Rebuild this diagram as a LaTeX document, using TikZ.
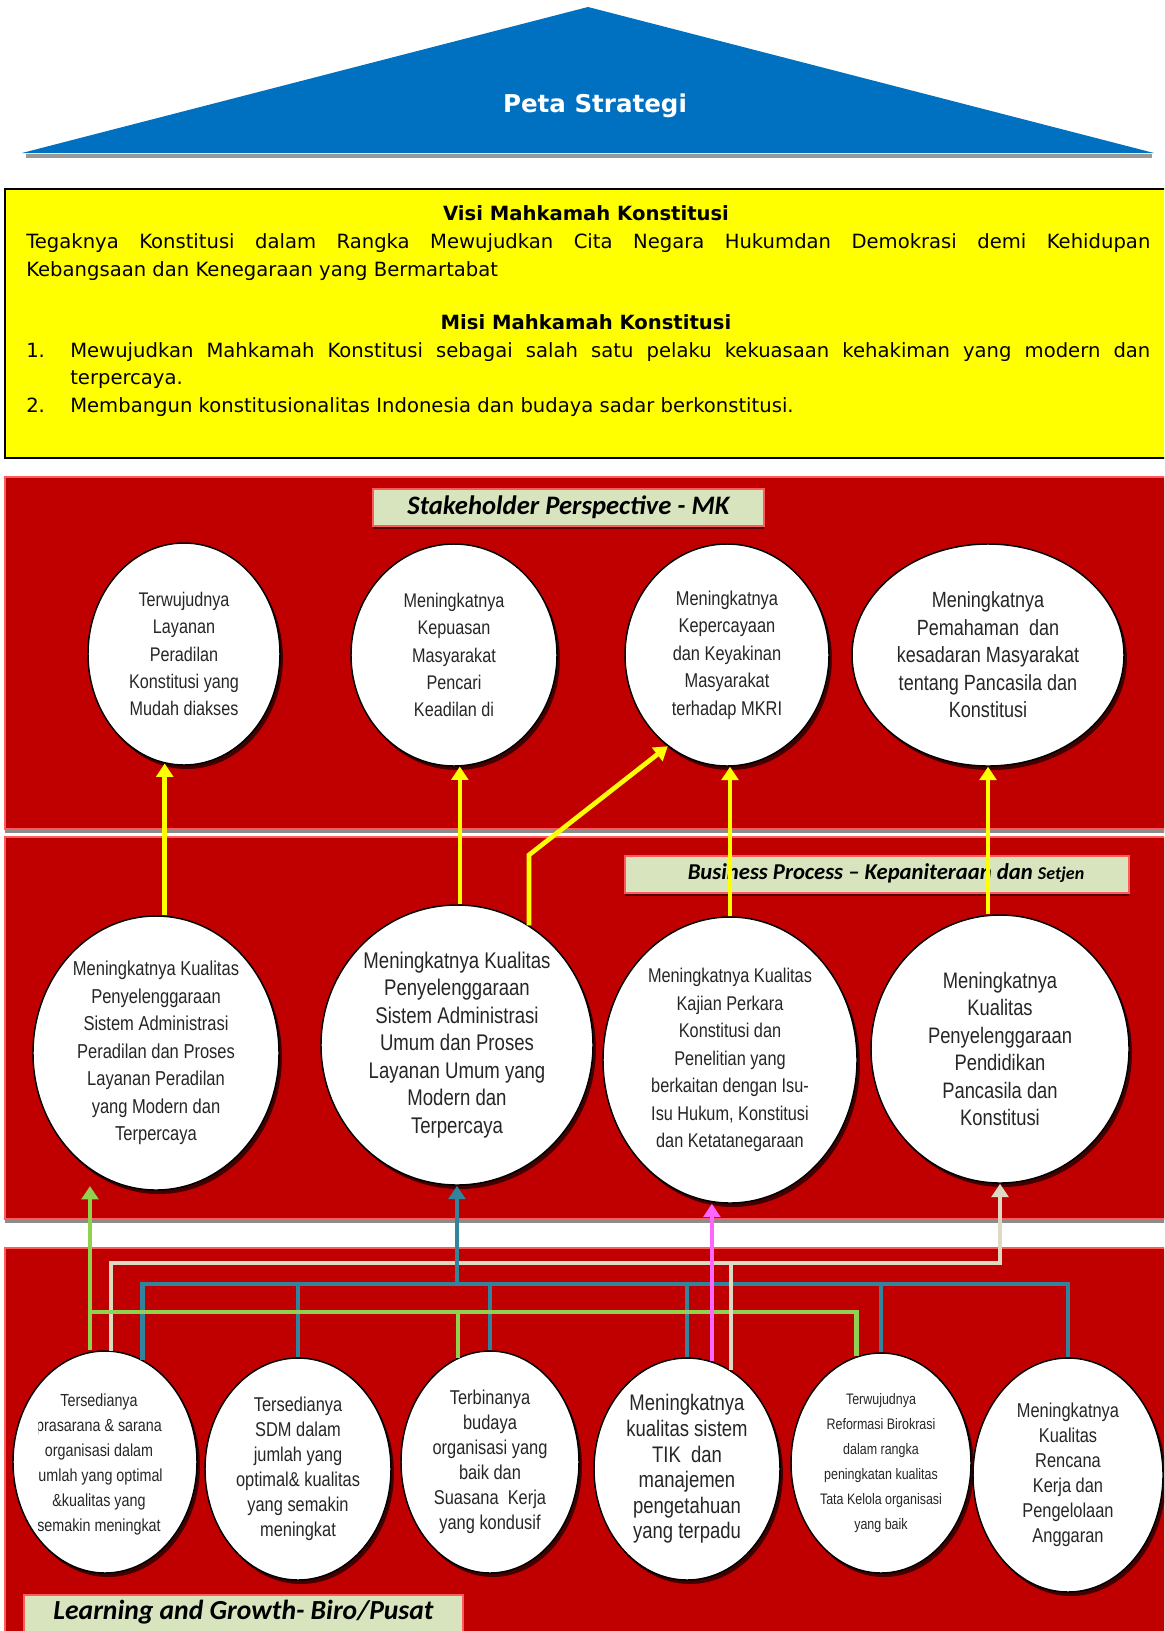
\documentclass[tikz,border=0pt]{standalone}
\usepackage{fontspec}
\setmainfont{Liberation Sans}
\newfontfamily\narrowfont[FakeStretch=0.82]{Liberation Sans}
\newfontfamily\vmfont{DejaVu Sans}
\newfontfamily\tagfont{Carlito}
\usepackage{xcolor}
\usepackage{tikz}
\usetikzlibrary{arrows.meta,shapes.geometric,shadows}
\definecolor{mkred}{HTML}{C00000}
\definecolor{mkedge}{HTML}{FF5B5B}
\definecolor{mkblue}{HTML}{0070C0}
\definecolor{mkyellow}{HTML}{FFFF00}
\definecolor{tagfill}{HTML}{D7E4BD}
\definecolor{lgreen}{HTML}{92D050}
\definecolor{lteal}{HTML}{31849B}
\definecolor{lbeige}{HTML}{DDD9C3}
\definecolor{lpink}{HTML}{FF66FF}
\newcommand{\ovalfont}[2]{\narrowfont\fontsize{#1}{#2}\selectfont}
\newcommand{\tagsize}[1]{\tagfont\bfseries\itshape\fontsize{#1}{24}\selectfont}

\begin{document}
\begin{tikzpicture}[x=0.75pt,y=-0.75pt,
 panel/.style={draw=mkedge,line width=1.2pt,fill=mkred,anchor=north west,inner sep=0pt,minimum width=900pt,
   drop shadow={shadow xshift=0pt,shadow yshift=-3.5pt,fill=black!45,opacity=1}},
 tag/.style={draw=mkedge,line width=1.5pt,fill=tagfill,anchor=base,inner sep=0pt,
   drop shadow={shadow xshift=0pt,shadow yshift=-2.2pt,fill=black,opacity=.55}},
 oval/.style={ellipse,draw=black,line width=1.1pt,fill=white,inner sep=0pt,align=center,text=black!85,
   drop shadow={shadow xshift=2.2pt,shadow yshift=-3pt,fill=black,opacity=.65}},
 vmtext/.style={anchor=base west,inner sep=0pt,font=\vmfont\fontsize{14.7}{20}\selectfont},
 vmtitle/.style={anchor=base,inner sep=0pt,font=\vmfont\bfseries\fontsize{14.7}{20}\selectfont},
 link/.style={line width=3.5pt},
 arr/.style={link,-{Triangle[length=10pt,width=12.5pt]}}]
\useasboundingbox (0,0) rectangle (1164,1631);
\clip (0,0) rectangle (1164,1631);

\fill[black!40] (26,154) rectangle (1152,158);
\fill[mkblue] (22,153) -- (588,7) -- (1154,153) -- cycle;
\node[vmtitle,text=white,font=\vmfont\bfseries\fontsize{18.4}{22}\selectfont] (title) at (595,112) {Peta Strategi};

\node[draw=black,line width=1.8pt,fill=mkyellow,anchor=north west,inner sep=0pt,minimum width=900pt,minimum height=201.75pt] (vmbox) at (4,188) {};
\node[vmtitle] (visi) at (586,220) {Visi Mahkamah Konstitusi};
\node[vmtext] (visi1) at (26,248) {\makebox[843pt][s]{Tegaknya Konstitusi dalam Rangka Mewujudkan Cita Negara Hukumdan Demokrasi demi Kehidupan}};
\node[vmtext] (visi2) at (26,276) {Kebangsaan dan Kenegaraan yang Bermartabat};
\node[vmtitle] (misi) at (586,329) {Misi Mahkamah Konstitusi};
\node[vmtext] (no1) at (26,357) {1.};
\node[vmtext] (misi1) at (70,357) {\makebox[810pt][s]{Mewujudkan Mahkamah Konstitusi sebagai salah satu pelaku kekuasaan kehakiman yang modern dan}};
\node[vmtext] (misi1b) at (70,384) {terpercaya.};
\node[vmtext] (no2) at (26,412) {2.};
\node[vmtext] (misi2) at (70,412) {Membangun konstitusionalitas Indonesia dan budaya sadar berkonstitusi.};

\node[panel,minimum height=264pt] (stakepanel) at (4,476) {};
\node[panel,minimum height=286.5pt] (bppanel) at (4,836) {};
\node[panel,minimum height=294.75pt] (lgpanel) at (4,1247) {};

\node[tag,minimum width=293.25pt,text height=18.75pt,text depth=9pt,font=\tagsize{20}] (stake) at (568.5,514) {Stakeholder Perspective - MK};
\node[tag,minimum width=378pt,text height=17.25pt,text depth=10.5pt,font=\tagsize{17}] (bp) at (877,879) {\hspace*{13.5pt}Business Process – Kepaniteraan dan {\fontsize{13.5}{16}\selectfont Setjen}};
\node[tag,minimum width=329.25pt,text height=18pt,text depth=15.75pt,font=\tagsize{20.7}] (lg) at (243.5,1619) {Learning and Growth- Biro/Pusat};

\node[oval,minimum width=144pt,minimum height=166.5pt,font=\ovalfont{14.8}{20.6}] (S1) at (184,654) {Terwujudnya\\Layanan\\Peradilan\\Konstitusi yang\\Mudah diakses};
\node[oval,minimum width=154.5pt,minimum height=166.5pt,font=\ovalfont{14.8}{20.6}] (S2) at (454,655) {Meningkatnya\\Kepuasan\\Masyarakat\\Pencari\\Keadilan di};
\node[oval,minimum width=153pt,minimum height=166.5pt,font=\ovalfont{15}{20.6}] (S3) at (727,655) {Meningkatnya\\Kepercayaan\\dan Keyakinan\\Masyarakat\\terhadap MKRI};
\node[oval,minimum width=204pt,minimum height=166.5pt,font=\ovalfont{16.5}{20.6}] (S4) at (988,655) {Meningkatnya\\Pemahaman\ \ dan\\kesadaran Masyarakat\\tentang Pancasila dan\\Konstitusi};

\node[oval,minimum width=184.5pt,minimum height=205.5pt,font=\ovalfont{15.1}{20.6}] (B1) at (156,1053) {Meningkatnya Kualitas\\Penyelenggaraan\\Sistem Administrasi\\Peradilan dan Proses\\Layanan Peradilan\\yang Modern dan\\Terpercaya};
\node[oval,minimum width=204pt,minimum height=210pt,font=\ovalfont{17}{20.6}] (B2) at (457,1045) {Meningkatnya Kualitas\\Penyelenggaraan\\Sistem Administrasi\\Umum dan Proses\\Layanan Umum yang\\Modern dan\\Terpercaya};
\node[oval,minimum width=190.5pt,minimum height=214.5pt,font=\ovalfont{14.9}{20.6}] (B3) at (730,1060) {Meningkatnya Kualitas\\Kajian Perkara\\Konstitusi dan\\Penelitian yang\\berkaitan dengan Isu-\\Isu Hukum, Konstitusi\\dan Ketatanegaraan};
\node[oval,minimum width=193.5pt,minimum height=201pt,font=\ovalfont{16.8}{20.6}] (B4) at (1000,1049) {Meningkatnya\\Kualitas\\Penyelenggaraan\\Pendidikan\\Pancasila dan\\Konstitusi};

\node[oval,minimum width=138pt,minimum height=166.5pt] (L1) at (105,1462) {};
\begin{scope}
\clip (38,1380) rectangle (210,1550);
\node[align=center,inner sep=0pt,text=black!85,font=\ovalfont{13.1}{18.75}] (L1text) at (99,1464) {Tersedianya\\prasarana \& sarana\\organisasi dalam\\jumlah yang optimal\\\&kualitas yang\\semakin meningkat};
\end{scope}
\node[oval,minimum width=139.5pt,minimum height=166.5pt,font=\ovalfont{15}{18.75}] (L2) at (298,1469) {Tersedianya\\SDM dalam\\jumlah yang\\optimal\& kualitas\\yang semakin\\meningkat};
\node[oval,minimum width=133.5pt,minimum height=166.5pt,font=\ovalfont{15}{18.75}] (L3) at (490,1462) {Terbinanya\\budaya\\organisasi yang\\baik dan\\Suasana\ \ Kerja\\yang kondusif};
\node[oval,minimum width=139.5pt,minimum height=166.5pt,font=\ovalfont{16.9}{19.2}] (L4) at (687,1469) {Meningkatnya\\kualitas sistem\\TIK\ \ dan\\manajemen\\pengetahuan\\yang terpadu};
\node[oval,minimum width=135pt,minimum height=165pt,font=\ovalfont{11.4}{18.75}] (L5) at (881,1463) {Terwujudnya\\Reformasi Birokrasi\\dalam rangka\\peningkatan kualitas\\Tata Kelola organisasi\\yang baik};
\node[oval,minimum width=142.5pt,minimum height=175.5pt,font=\ovalfont{15}{18.75}] (L6) at (1068,1475) {Meningkatnya\\Kualitas\\Rencana\\Kerja dan\\Pengelolaan\\Anggaran};

\coordinate (cbus) at (0,1263);
\coordinate (bbus) at (0,1284);
\coordinate (gbus) at (0,1312);
\coordinate (gtip) at (90,1186);
\coordinate (kink) at (529,855);

\draw[arr,lbeige] (L1.87) |- (cbus -| B4.south) -- (B4.south);
\draw[arr,lteal] (B2.south |- bbus) -- (B2.south);
\draw[link,lteal] (L1.70) |- (bbus -| L6.north) -- (L6.north);
\draw[link,lteal] (L2.north) -- (L2.north |- bbus);
\draw[link,lteal] (L3.north) -- (L3.north |- bbus);
\draw[link,lteal] (L4.north) -- (L4.north |- bbus);
\draw[link,lteal] (L5.north) -- (L5.north |- bbus);
\draw[arr,lgreen] (L1.north -| gtip) -- (gtip);
\draw[link,lgreen] (gtip |- gbus) -| (L5.103);
\draw[link,lgreen] (L3.107) -- (L3.107 |- gbus);
\draw[link,lbeige] (L4.66) -- (L4.66 |- cbus);
\draw[arr,lpink] (L4.77) -- (L4.77 |- B3.south);

\draw[arr,mkyellow] (S1.260 |- B1.north) -- (S1.260);
\draw[arr,mkyellow] (S2.273 |- B2.north) -- (S2.273);
\draw[arr,mkyellow] (B2.59) -- (B2.59 |- kink) -- (S3.237);
\draw[arr,mkyellow] (B3.north) -- (B3.north |- S3.south);
\draw[arr,mkyellow] (S4.south |- B4.north) -- (S4.south);
\end{tikzpicture}
\end{document}
